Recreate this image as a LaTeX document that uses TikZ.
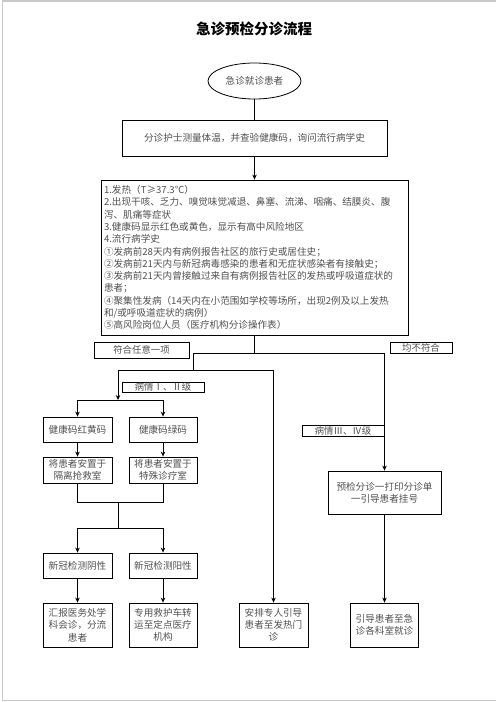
\documentclass[tikz,border=0pt]{standalone}
\usepackage{fontspec}
\setmainfont{Noto Sans CJK SC}
\usetikzlibrary{shapes.geometric,arrows.meta}
\definecolor{txtgray}{RGB}{80,80,80}
\definecolor{framegray}{RGB}{200,200,200}

\begin{document}
\begin{tikzpicture}[x=1pt,y=-1pt,>={Stealth[length=5pt,width=4.5pt]},
    box/.style={draw,line width=0.8pt,inner sep=1pt,align=center,
                font=\fontsize{9.6pt}{12.3pt}\selectfont,text=txtgray},
    tag/.style={draw,line width=0.8pt,inner sep=0pt,
                font=\fontsize{9.4pt}{10pt}\selectfont,text=txtgray},
    link/.style={line width=0.8pt}]

    \useasboundingbox (0,0) rectangle (496,702);
    \draw[framegray,line width=1.5pt] (496,0.75) -- (2.7,0.75) -- (2.7,700.5) -- (496,700.5);

    \node[font=\fontsize{14.5pt}{16pt}\selectfont\bfseries] (title) at (254,29) {急诊预检分诊流程};

    \node[box,ellipse,minimum width=93pt,minimum height=36pt] (start) at (254.5,81) {急诊就诊患者};
    \node[box,minimum width=265pt,minimum height=36pt] (nurse) at (254.5,138)
        {分诊护士测量体温，并查验健康码，询问流行病学史};
    \node[box,align=left,text width=301pt,minimum width=307pt,minimum height=155pt] (crit) at (254.5,257.5)
        {1.发热（T≥37.3℃）\\
         2.出现干咳、乏力、嗅觉味觉减退、鼻塞、流涕、咽痛、结膜炎、腹\\
         泻、肌痛等症状\\
         3.健康码显示红色或黄色，显示有高中风险地区\\
         4.流行病学史\\
         ①发病前28天内有病例报告社区的旅行史或居住史；\\
         ②发病前21天内与新冠病毒感染的患者和无症状感染者有接触史；\\
         ③发病前21天内曾接触过来自有病例报告社区的发热或呼吸道症状的\\
         患者；\\
         ④聚集性发病（14天内在小范围如学校等场所，出现2例及以上发热\\
         和/或呼吸道症状的病例）\\
         ⑤高风险岗位人员（医疗机构分诊操作表）};

    \node[tag,minimum width=95pt,minimum height=16pt] (anyyes) at (141.5,350) {符合任意一项};
    \node[tag,minimum width=62pt,minimum height=11pt] (allno) at (421,347.5) {均不符合};
    \node[tag,minimum width=82pt,minimum height=10pt] (lvl12) at (163,387) {病情Ⅰ、Ⅱ级};
    \node[tag,minimum width=82pt,minimum height=11pt] (lvl34) at (343,430.5) {病情Ⅲ、Ⅳ级};

    \node[box,minimum width=69pt,minimum height=25pt] (red) at (77.5,429.5) {健康码红黄码};
    \node[box,minimum width=68pt,minimum height=25pt] (green) at (163,429.5) {健康码绿码};
    \node[box,minimum width=69pt,minimum height=26pt] (rescue) at (77.5,470) {将患者安置于\\隔离抢救室};
    \node[box,minimum width=68pt,minimum height=26pt] (special) at (163,470) {将患者安置于\\特殊诊疗室};
    \node[box,minimum width=69pt,minimum height=25pt] (neg) at (77.5,565.5) {新冠检测阴性};
    \node[box,minimum width=68pt,minimum height=25pt] (pos) at (163,565.5) {新冠检测阳性};
    \node[box,minimum width=69pt,minimum height=44pt] (report) at (77.5,625) {汇报医务处学\\科会诊，分流\\患者};
    \node[box,minimum width=68pt,minimum height=44pt] (ambul) at (163,625) {专用救护车转\\运至定点医疗\\机构};
    \node[box,minimum width=69pt,minimum height=44pt] (fever) at (273.5,625) {安排专人引导\\患者至发热门\\诊};
    \node[box,minimum width=113pt,minimum height=43pt] (pre) at (384.5,492.5) {预检分诊一打印分诊单\\一引导患者挂号};
    \node[box,minimum width=68pt,minimum height=44pt] (guide) at (384.5,625) {引导患者至急\\诊各科室就诊};

    \coordinate (split) at (254.5,353);
    \coordinate (lbr)   at (193,353);
    \coordinate (rbr)   at (384.5,353);
    \coordinate (lbr2)  at (193,370);
    \coordinate (ll)    at (118,370);
    \coordinate (lr)    at (273.5,370);
    \coordinate (gmid)  at (118,400);
    \coordinate (gl)    at (77.5,400);
    \coordinate (gr)    at (163,400);
    \coordinate (m1)    at (118,502);
    \coordinate (m1r)   at (163,502);
    \coordinate (m2)    at (118,528);
    \coordinate (m2l)   at (77.5,528);
    \coordinate (m2r)   at (163,528);

    \draw[link] (start) -- (nurse);
    \draw[link] (crit) -- (split);
    \draw[link] (lbr) -- (rbr);
    \draw[link] (lbr) -- (lbr2);
    \draw[link] (ll) -- (lr);
    \draw[link] (gl) -- (gr);
    \draw[link] (rescue.south) |- (m1r) -- (special.south);
    \draw[link] (m1) -- (m2);
    \draw[link] (m2l) -- (m2r);

    \path[link] (nurse) edge[->] (crit)
          (ll)      edge[->] (gmid)
          (gl)      edge[->] (red)
          (gr)      edge[->] (green)
          (red)     edge[->] (rescue)
          (green)   edge[->] (special)
          (m2l)     edge[->] (neg)
          (m2r)     edge[->] (pos)
          (neg)     edge[->] (report)
          (pos)     edge[->] (ambul)
          (lr)      edge[->] (fever)
          (rbr)     edge[->] (pre)
          (pre)     edge[->] (guide);
\end{tikzpicture}
\end{document}
